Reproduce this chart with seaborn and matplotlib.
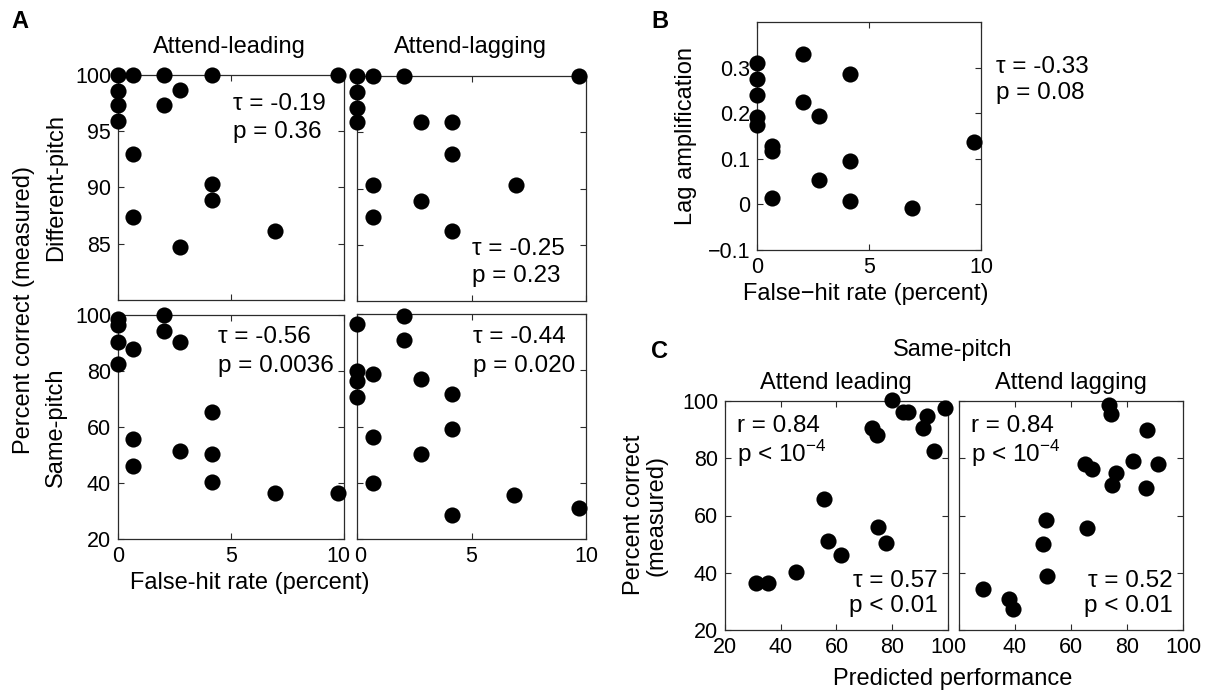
import numpy as np
import pandas as pd
import matplotlib
matplotlib.use("Agg")
import matplotlib.pyplot as plt
import matplotlib.transforms as mtransforms
import seaborn as sns

# ---- data -------------------------------------------------------------
# Panel A: false-hit rate (percent) vs. percent correct
fh_diff_lead = [0, 0.68, 2.04, 4.16, 9.74, 0, 0, 0, 2.73, 2.04, 0.68, 4.16, 4.16, 0.68, 2.73, 6.93]
pc_diff_lead = [100, 100, 100, 100, 100, 98.6, 97.3, 95.9, 98.7, 97.3, 93.0, 90.3, 88.9, 87.4, 84.7, 86.1]

fh_diff_lag = [0, 0.71, 2.05, 9.68, 0, 0, 0, 2.78, 4.13, 4.13, 0.71, 6.93, 2.78, 0.71, 4.13]
pc_diff_lag = [100, 100, 100, 100, 98.6, 97.2, 95.9, 95.9, 95.9, 93.1, 90.3, 90.3, 88.9, 87.5, 86.2]

fh_same_lead = [0, 0, 0, 0, 2.04, 2.04, 2.73, 0.68, 4.16, 0.68, 2.73, 4.16, 0.68, 4.16, 6.93, 9.75]
pc_same_lead = [98.5, 96.5, 90.5, 82.5, 100, 94.4, 90.2, 87.7, 65.2, 55.7, 51.4, 50.2, 46.1, 40.5, 36.3, 36.3]

fh_same_lag = [0, 2.05, 2.05, 0, 0, 0, 0.71, 2.78, 4.13, 4.13, 0.71, 2.78, 0.71, 4.13, 6.87, 9.68]
pc_same_lag = [96.4, 99.4, 90.8, 79.8, 76.2, 70.6, 78.6, 76.8, 71.4, 59.2, 56.3, 50.4, 39.9, 28.6, 35.7, 31.0]

stats_a = {
    "diff_lead": ("τ = -0.19", "p = 0.36"),
    "diff_lag": ("τ = -0.25", "p = 0.23"),
    "same_lead": ("τ = -0.56", "p = 0.0036"),
    "same_lag": ("τ = -0.44", "p = 0.020"),
}

# Panel B: false-hit rate vs. lag amplification
fh_b = [0, 0, 0, 0, 0, 0.66, 0.66, 0.66, 2.04, 2.04, 2.77, 2.77, 4.15, 4.15, 4.15, 6.92, 9.69]
lag_amp = [0.311, 0.275, 0.239, 0.192, 0.175, 0.128, 0.118, 0.013, 0.33, 0.225,
           0.193, 0.053, 0.286, 0.096, 0.007, -0.008, 0.136]
stats_b = ("τ = -0.33", "p = 0.08")

# Panel C: predicted vs. measured performance (same-pitch)
pred_lead = [31.3, 35.3, 45.3, 55.6, 57.0, 61.7, 74.8, 77.8, 72.7, 74.6, 79.9, 83.7, 85.7, 92.3, 90.9, 95.1, 98.8]
meas_lead = [36.5, 36.5, 40.4, 65.7, 51.2, 46.2, 56.1, 50.3, 90.4, 88.0, 100.2, 96.1, 96.1, 94.9, 90.4, 82.4, 97.5]

pred_lag = [28.7, 38.0, 39.2, 49.9, 51.3, 51.1, 65.6, 65.0, 67.4, 73.7, 74.2, 76.1, 74.6, 82.3, 87.3, 91.2, 86.7]
meas_lag = [34.4, 30.7, 27.4, 50.0, 38.9, 58.5, 55.6, 77.9, 76.2, 98.7, 95.6, 75.0, 70.6, 79.1, 89.9, 77.9, 69.5]

stats_c_lead = ("r = 0.84", "p < 10$^{\\mathregular{-4}}$", "τ = 0.57", "p < 0.01")
stats_c_lag = ("r = 0.84", "p < 10$^{\\mathregular{-4}}$", "τ = 0.52", "p < 0.01")

# ---- style ------------------------------------------------------------
sns.set_theme(style="white")
plt.rcParams["font.family"] = ["Liberation Sans", "DejaVu Sans"]
plt.rcParams["mathtext.fontset"] = "custom"
plt.rcParams["mathtext.rm"] = "Liberation Sans"

W, H = 1218, 692
fig = plt.figure(figsize=(W / 100, H / 100), dpi=100)
fig.patch.set_facecolor("white")

TICK_FS = 15.5
TXT_FS = 17.5
LBL_FS = 17
EDGE = "#2b2b2b"


def box(x0, y0, x1, y1):
    """Axes from a pixel box (left, top, right, bottom)."""
    return fig.add_axes([x0 / W, 1 - y1 / H, (x1 - x0) / W, (y1 - y0) / H])


def ftext(x, y, s, **kw):
    kw.setdefault("fontsize", TXT_FS)
    kw.setdefault("color", "black")
    return fig.text(x / W, 1 - y / H, s, **kw)


def style(ax, xlim, ylim, xticks, yticks, xlabels=True, ylabels=True):
    ax.set_xlim(*xlim)
    ax.set_ylim(*ylim)
    ax.set_xticks(xticks)
    ax.set_yticks(yticks)
    ax.tick_params(direction="in", length=4, width=0.8, colors=EDGE,
                   top=True, right=True, bottom=True, left=True,
                   labelsize=TICK_FS, labelcolor="black", pad=5)
    if not xlabels:
        ax.set_xticklabels([])
    if not ylabels:
        ax.set_yticklabels([])
    for sp in ax.spines.values():
        sp.set_visible(True)
        sp.set_color(EDGE)
        sp.set_linewidth(0.9)
    ax.set_xlabel("")
    ax.set_ylabel("")
    ax.set_facecolor("white")


def nudge_xlabel(ax, index, dx_px):
    lab = ax.get_xticklabels()[index]
    off = mtransforms.ScaledTranslation(dx_px / 100, 0, fig.dpi_scale_trans)
    lab.set_transform(lab.get_transform() + off)


def dots(ax, x, y):
    df = pd.DataFrame({"x": x, "y": y})
    sns.scatterplot(data=df, x="x", y="y", ax=ax, color="black", s=135,
                    edgecolor="black", linewidth=0, clip_on=False, zorder=5,
                    legend=False)


# ---- panel A ----------------------------------------------------------
ax_tl = box(118, 75, 344, 300)
ax_tr = box(357, 76, 586, 301)
ax_bl = box(118, 315, 344, 539)
ax_br = box(357, 314, 586, 539)

dots(ax_tl, fh_diff_lead, pc_diff_lead)
dots(ax_tr, fh_diff_lag, pc_diff_lag)
dots(ax_bl, fh_same_lead, pc_same_lead)
dots(ax_br, fh_same_lag, pc_same_lag)

fh_ticks = [0, 5, 10]
style(ax_tl, (0, 10), (80, 100), fh_ticks, [85, 90, 95, 100], xlabels=False)
style(ax_tr, (0, 10), (80, 100), fh_ticks, [85, 90, 95, 100], xlabels=False, ylabels=False)
style(ax_bl, (0, 10), (20, 100), fh_ticks, [20, 40, 60, 80, 100])
style(ax_br, (0, 10), (20, 100), fh_ticks, [20, 40, 60, 80, 100], ylabels=False)
fig.canvas.draw()
nudge_xlabel(ax_bl, 2, -6)
nudge_xlabel(ax_br, 0, 3)

ftext(229, 53, "Attend-leading", ha="center", va="baseline", fontsize=LBL_FS)
ftext(470, 53, "Attend-lagging", ha="center", va="baseline", fontsize=LBL_FS)

ftext(233, 110, stats_a["diff_lead"][0], ha="left", va="baseline")
ftext(233, 138, stats_a["diff_lead"][1], ha="left", va="baseline")
ftext(472, 255, stats_a["diff_lag"][0], ha="left", va="baseline")
ftext(472, 282, stats_a["diff_lag"][1], ha="left", va="baseline")
ftext(218, 343, stats_a["same_lead"][0], ha="left", va="baseline")
ftext(218, 372, stats_a["same_lead"][1], ha="left", va="baseline")
ftext(473, 343, stats_a["same_lag"][0], ha="left", va="baseline")
ftext(473, 372, stats_a["same_lag"][1], ha="left", va="baseline")

ftext(24, 310, "Percent correct (measured)", rotation=90, ha="center", va="center",
      fontsize=LBL_FS)
ftext(56, 187, "Different-pitch", rotation=90, ha="center", va="center", fontsize=LBL_FS)
ftext(56, 427, "Same-pitch", rotation=90, ha="center", va="center", fontsize=LBL_FS)
ftext(250, 583, "False-hit rate (percent)", ha="center", va="center", fontsize=LBL_FS)

# ---- panel B ----------------------------------------------------------
ax_b = box(757, 22, 981, 250)
dots(ax_b, fh_b, lag_amp)
style(ax_b, (0, 10), (-0.1, 0.4), fh_ticks, [-0.1, 0, 0.1, 0.2, 0.3])
ax_b.set_yticklabels(["\u22120.1", "0", "0.1", "0.2", "0.3"])
ftext(996, 73, stats_b[0], ha="left", va="baseline")
ftext(996, 99, stats_b[1], ha="left", va="baseline")
ftext(686, 136, "Lag amplification", rotation=90, ha="center", va="center", fontsize=LBL_FS)
ftext(866, 294, "False\u2212hit rate (percent)", ha="center", va="center", fontsize=LBL_FS)

# ---- panel C ----------------------------------------------------------
ax_cl = box(725, 401, 948, 630)
ax_cr = box(959, 401, 1183, 630)
dots(ax_cl, pred_lead, meas_lead)
dots(ax_cr, pred_lag, meas_lag)
pp_ticks = [20, 40, 60, 80, 100]
style(ax_cl, (20, 100), (20, 100), pp_ticks, pp_ticks)
style(ax_cr, (20, 100), (20, 100), pp_ticks, pp_ticks, ylabels=False)
ax_cr.set_xticklabels(["", "40", "60", "80", "100"])

for ax, st in ((ax_cl, stats_c_lead), (ax_cr, stats_c_lag)):
    x0 = ax.get_position().x0 * W
    x1 = ax.get_position().x1 * W
    ftext(x0 + 12, 432, st[0], ha="left", va="baseline")
    ftext(x0 + 12, 462, st[1], ha="left", va="baseline")
    ftext(x1 - 10, 587, st[2], ha="right", va="baseline")
    ftext(x1 - 10, 612, st[3], ha="right", va="baseline")

ftext(836, 389, "Attend leading", ha="center", va="baseline", fontsize=LBL_FS)
ftext(1071, 389, "Attend lagging", ha="center", va="baseline", fontsize=LBL_FS)
ftext(953, 356, "Same-pitch", ha="center", va="baseline", fontsize=LBL_FS)
ftext(645, 515, "Percent correct\n(measured)", rotation=90, ha="center", va="center",
      linespacing=1.05, fontsize=LBL_FS)
ftext(953, 679, "Predicted performance", ha="center", va="center", fontsize=LBL_FS)

# ---- panel letters ----------------------------------------------------
ftext(20, 22, "A", fontsize=17, fontweight="bold", ha="center", va="center")
ftext(660, 22, "B", fontsize=17, fontweight="bold", ha="center", va="center")
ftext(660, 352, "C", fontsize=17, fontweight="bold", ha="center", va="center")

fig.savefig("out.png", dpi=100, facecolor="white")
